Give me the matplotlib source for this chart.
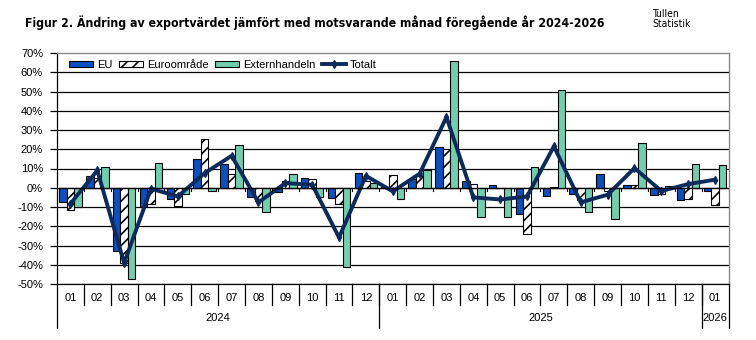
import matplotlib
matplotlib.use("Agg")
import matplotlib.pyplot as plt
import matplotlib.transforms as mtransforms
from matplotlib import font_manager
from matplotlib.patches import Patch
from matplotlib.lines import Line2D
import numpy as np

months = ["01", "02", "03", "04", "05", "06", "07", "08", "09", "10", "11", "12",
          "01", "02", "03", "04", "05", "06", "07", "08", "09", "10", "11", "12", "01"]
years = ["2024", "2025", "2026"]
year_counts = [12, 12, 1]

eu = [-7.4, 6.1, -32.9, -9.9, -5.9, 14.9, 12.3, -4.7, -2.3, 5.0, -5.4, 7.6,
      0.3, 4.7, 21.1, 3.5, 1.4, -13.5, -4.2, -3.3, 7.1, 1.4, -4.0, -6.4, -1.7]
euro = [-11.6, 5.2, -39.0, -8.5, -9.7, 25.3, 7.3, -7.1, 3.3, 4.5, -8.5, 3.6,
        6.6, 6.2, 19.9, 1.9, -0.3, -23.9, 0.5, -6.2, -1.7, 1.2, -3.1, -5.9, -9.0]
ext = [-9.9, 10.7, -47.4, 12.8, -3.3, -1.6, 22.0, -12.6, 7.1, -4.7, -41.2, 2.4,
       -5.9, 9.4, 65.8, -15.2, -15.2, 10.7, 50.7, -12.6, -16.3, 23.2, 0.9, 12.3, 11.8]
total = [-8.3, 9.0, -39.1, -0.5, -4.5, 7.6, 16.6, -7.6, 2.4, 1.6, -25.8, 6.2,
         -1.9, 7.3, 36.7, -5.0, -6.1, -4.5, 21.5, -7.6, -3.6, 10.2, -1.7, 1.9, 4.2]

labels = ["EU", "Euroområde", "Externhandeln", "Totalt"]
c_eu = "#0a50c0"
c_ext = "#6fcfae"
c_tot = "#0d2b5a"

plt.rcParams['font.family'] = ['Liberation Sans', 'DejaVu Sans']
plt.rcParams['hatch.linewidth'] = 1.2

# look for a narrow/condensed face for the title
narrow_bold = None
narrow_reg = None
for f in font_manager.fontManager.ttflist:
    nm = f.name.lower()
    fn = f.fname.lower()
    is_narrow = ("narrow" in nm or "condensed" in nm or "narrow" in fn or "condensed" in fn
                 or str(f.stretch) in ("condensed", "semi-condensed", "extra-condensed"))
    if not is_narrow or "oblique" in fn or "italic" in fn:
        continue
    w = f.weight if isinstance(f.weight, int) else (700 if "bold" in str(f.weight) else 400)
    if w >= 600 and narrow_bold is None:
        narrow_bold = f.fname
    if w < 600 and narrow_reg is None:
        narrow_reg = f.fname

fig = plt.figure(figsize=(7.56, 3.4), dpi=100)
ax = fig.add_axes([57/756, 1-284/340, (728.5-57)/756, (284-53)/340])

n = len(months)
x = np.arange(n)
w = 0.28
ax.bar(x - w, eu, w, color=c_eu, edgecolor="black", linewidth=0.8, zorder=3)
ax.bar(x, euro, w, color="white", edgecolor="black", hatch="///", linewidth=0.8, zorder=3)
ax.bar(x + w, ext, w, color=c_ext, edgecolor="black", linewidth=0.8, zorder=3)
ax.plot(x, total, color=c_tot, lw=2.8, marker="d", ms=4, zorder=4)

ax.set_xlim(-0.5, n - 0.5)
ax.set_ylim(-50, 70)
ax.set_yticks(np.arange(-50, 71, 10))
ax.set_yticklabels([f"{v}%" for v in range(-50, 71, 10)], fontsize=8)
ax.tick_params(axis="y", direction="out", length=5, width=0.9, pad=5, colors="black")
ax.set_xticks([])
for v in range(-50, 70, 10):
    ax.axhline(v, color="black", lw=0.9, zorder=1)
ax.axhline(0, color="black", lw=0.9, zorder=5)

for s in ["top", "right"]:
    ax.spines[s].set_color("#888888")
    ax.spines[s].set_linewidth(1.0)
ax.spines["left"].set_color("black")
ax.spines["left"].set_linewidth(0.9)
ax.spines["bottom"].set_color("black")
ax.spines["bottom"].set_linewidth(0.9)

for b in np.arange(-0.5, n, 1.0):
    ax.plot([b, b], [0, -1.5], color="black", lw=0.8, zorder=5)

trans = mtransforms.blended_transform_factory(ax.transData, fig.transFigure)
for i, m in enumerate(months):
    fig.text(i, 1 - 298/340, m, transform=trans, fontsize=8, ha="center", va="center")
for b in np.arange(0.5, n - 1, 1.0):
    fig.add_artist(Line2D([b, b], [1 - 284/340, 1 - 305/340], transform=trans, color="black", lw=0.9))
start = 0
bounds = [-0.5]
for y, cnt in zip(years, year_counts):
    centre = start + (cnt - 1) / 2
    fig.text(centre, 1 - 318/340, y, transform=trans, fontsize=8, ha="center", va="center")
    start += cnt
    bounds.append(start - 0.5)
for b in bounds:
    fig.add_artist(Line2D([b, b], [1 - 284/340, 1 - 328/340], transform=trans, color="black", lw=0.9))

handles = [Patch(facecolor=c_eu, edgecolor="black", lw=0.8),
           Patch(facecolor="white", edgecolor="black", hatch="///", lw=0.8),
           Patch(facecolor=c_ext, edgecolor="black", lw=0.8),
           Line2D([], [], color=c_tot, lw=2.8, marker="d", ms=4)]
ax.legend(handles, labels, loc="upper left", bbox_to_anchor=(0.008, 1.0), ncol=4,
          frameon=False, fontsize=8, handlelength=2.2, handleheight=0.5,
          columnspacing=0.6, handletextpad=0.3, borderaxespad=0.2)

if narrow_bold:
    title_kw = dict(fontproperties=font_manager.FontProperties(fname=narrow_bold, size=10))
else:
    title_kw = dict(fontsize=10, fontweight="bold")
title = fig.text(25/756, 1 - 23/340,
                 "Figur 2. Ändring av exportvärdet jämfört med motsvarande månad föregående år 2024-2026",
                 ha="left", va="center", **title_kw)
fig.canvas.draw()
bb = title.get_window_extent()
title.set_fontsize(10 * 577 / bb.width)

if narrow_reg:
    tk = dict(fontproperties=font_manager.FontProperties(fname=narrow_reg, size=7.5))
else:
    tk = dict(fontsize=7)
fig.text(652/756, 1 - 19/340, "Tullen\nStatistik", ha="left", va="center", linespacing=1.1, **tk)

fig.savefig("out.png", dpi=100)
